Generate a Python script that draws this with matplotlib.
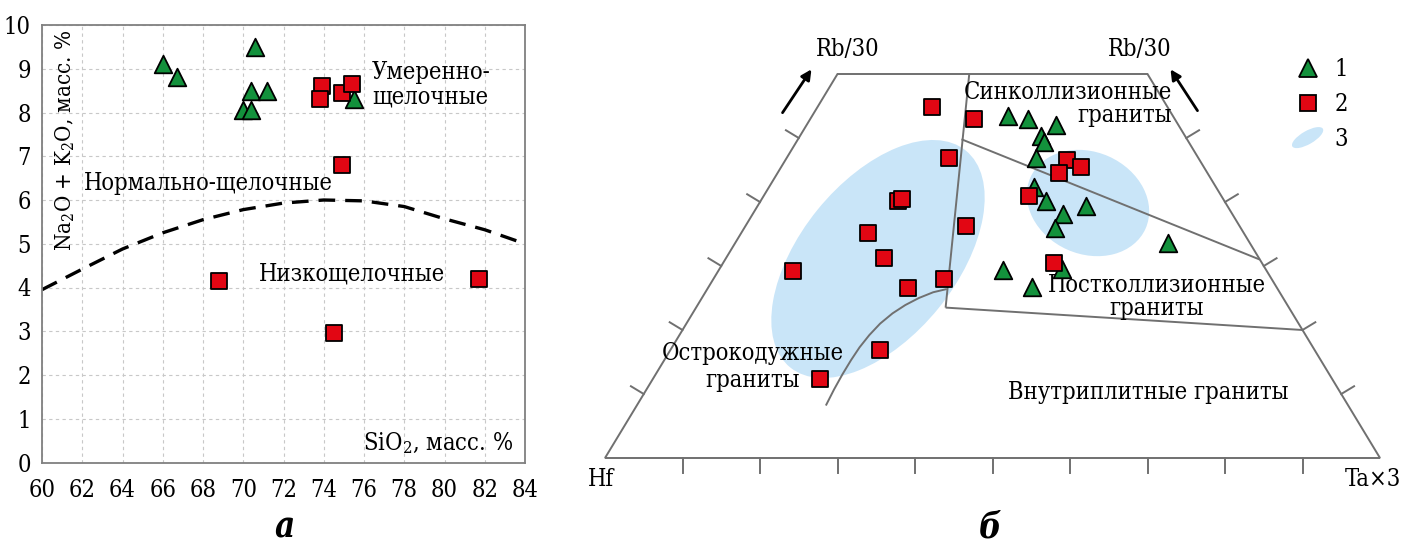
import numpy as np
import matplotlib
matplotlib.use("Agg")
import matplotlib.pyplot as plt
from matplotlib.patches import Ellipse, Polygon
from matplotlib.lines import Line2D
from matplotlib.legend_handler import HandlerPatch

plt.rcParams['font.family'] = ['DejaVu Serif']
plt.rcParams['font.stretch'] = 'condensed'
plt.rcParams['mathtext.fontset'] = 'dejavuserif'

# ---- panel a: TAS (SiO2 vs Na2O+K2O) ----
tri_sio2 = [66.0, 66.7, 70.6, 70.4, 71.2, 70.0, 70.4, 75.5]
tri_alk = [9.1, 8.8, 9.5, 8.5, 8.5, 8.05, 8.05, 8.3]
sq_sio2 = [73.9, 73.8, 74.9, 75.4, 74.9, 68.8, 81.7, 74.5]
sq_alk = [8.6, 8.3, 8.45, 8.65, 6.8, 4.15, 4.2, 2.95]

# alkaline / subalkaline boundary
bound_sio2 = [60, 62, 64, 66, 68, 70, 72, 74, 76, 78, 80, 82, 84]
bound_alk = [3.95, 4.42, 4.88, 5.25, 5.55, 5.78, 5.93, 6.0, 5.98, 5.85, 5.57, 5.32, 5.0]

# ---- panel b: Hf - Rb/30 - Ta*3 (percent) ----
tri_rb = [53.5, 53.0, 52.0, 50.3, 49.4, 46.8, 42.4, 40.2, 38.2, 39.4, 35.9, 33.6, 29.3, 26.7, 29.5]
tri_ta = [25.2, 28.1, 32.2, 31.1, 32.0, 32.2, 34.2, 36.8, 40.0, 42.4, 40.1, 55.9, 36.7, 41.7, 44.2]
sq_rb = [54.9, 53.0, 46.9, 40.2, 40.4, 35.1, 31.3, 29.2, 26.5, 27.9, 36.2, 16.8, 12.3,
         46.6, 45.4, 44.6, 40.9, 30.4]
sq_ta = [14.8, 21.1, 21.0, 17.7, 18.1, 16.4, 20.3, 9.7, 25.8, 29.8, 28.5, 27.1, 21.6,
         36.3, 38.7, 36.3, 34.2, 42.7]

# field boundaries (Rb%, Ta%)
line_a_rb, line_a_ta = [60.0, 23.5], [17.0, 32.2]
line_b_rb, line_b_ta = [23.5, 20.0], [32.2, 80.0]
line_c_rb, line_c_ta = [49.8, 31.0], [21.1, 69.0]
arc_rb = [26.4, 25.9, 25.0, 23.9, 22.6, 21.0, 19.2, 17.3, 15.3, 13.1, 10.7, 8.2]
arc_ta = [30.9, 29.4, 28.0, 26.8, 25.8, 25.0, 24.5, 24.2, 24.1, 24.1, 24.2, 24.4]
frame_rb = [0, 60, 60, 0]
frame_ta = [0, 0, 40, 100]
tick_pct = [10, 20, 30, 40, 50, 60, 70, 80, 90]

RED = '#e20613'
GREEN = '#13913c'
BLUE = '#c9e5f8'
GRAY = '#707070'

W, H = 775.0, 640.0  # diagram size in pixels


def tern(rb, ta):
    rb = np.asarray(rb, float) / 100
    ta = np.asarray(ta, float) / 100
    return W * (ta + rb / 2), H * rb


fig = plt.figure(figsize=(14.14, 5.43), dpi=100)
FW, FH = 1414.0, 543.0
fs = 17

# ================= panel a =================
ax = fig.add_axes([42 / FW, (FH - 462.5) / FH, (525 - 42) / FW, (462.5 - 25) / FH])
ax.set_xlim(60, 84)
ax.set_ylim(0, 10)
ax.set_xticks(np.arange(60, 85, 2))
ax.set_yticks(np.arange(0, 11, 1))
ax.grid(True, ls=(0, (3, 3)), color='#c8c8c8', lw=0.8)
ax.set_axisbelow(True)
for s in ax.spines.values():
    s.set_color('#808080')
    s.set_linewidth(1.3)
ax.tick_params(length=0, labelsize=fs)
ax.tick_params(axis='x', pad=12)
ax.tick_params(axis='y', pad=8)
ax.plot(bound_sio2, bound_alk, color='black', lw=2.4, ls=(0, (5, 3)))
ax.scatter(tri_sio2, tri_alk, marker='^', s=160, c=GREEN, edgecolors='black', linewidths=1.3, zorder=5)
ax.scatter(sq_sio2, sq_alk, marker='s', s=140, c=RED, edgecolors='black', linewidths=1.3, zorder=5)

ax.text(0.048, 0.737, 'Na$_2$O + K$_2$O, масс. %', transform=ax.transAxes, rotation=90,
        ha='center', va='center', fontsize=16)
ax.text(0.975, 0.045, 'SiO$_2$, масс. %', transform=ax.transAxes, ha='right', va='center', fontsize=fs)
ax.text(76.4, 8.63, 'Умеренно-\nщелочные', ha='left', va='center', fontsize=fs, linespacing=1.05)
ax.text(62.1, 6.37, 'Нормально-щелочные', ha='left', va='center', fontsize=fs)
ax.text(70.8, 4.3, 'Низкощелочные', ha='left', va='center', fontsize=fs)

fig.text(285 / FW, 1 - 527 / FH, 'а', ha='center', va='center', fontsize=25,
         fontweight='bold', fontstyle='italic')

# ================= panel b =================
bx = fig.add_axes([580 / FW, 0, (FW - 580) / FW, 1])
bx.set_xlim(-25, 809)
bx.set_ylim(-85, 458)
bx.axis('off')

bx.add_patch(Ellipse((273, 199), 279, 156, angle=51, fc=BLUE, ec='none', zorder=1))
bx.add_patch(Ellipse((483, 255), 126, 102, angle=-24, fc=BLUE, ec='none', zorder=1))

fx, fy = tern(frame_rb, frame_ta)
bx.add_patch(Polygon(np.column_stack([fx, fy]), closed=True, fill=False, ec=GRAY, lw=1.4, zorder=2))
for lr, lt in [(line_a_rb, line_a_ta), (line_b_rb, line_b_ta), (line_c_rb, line_c_ta), (arc_rb, arc_ta)]:
    x, y = tern(lr, lt)
    bx.plot(x, y, color=GRAY, lw=1.4, zorder=2, solid_capstyle='butt')

# ticks
tl = 15
for p in tick_pct:
    x, y = tern(0, p)
    bx.plot([x, x], [y, y - tl], color=GRAY, lw=1.4)
nl = np.array([-H, W / 2]); nl /= np.hypot(*nl)
nr = np.array([H, W / 2]); nr /= np.hypot(*nr)
for p in tick_pct[:5]:
    x, y = tern(p, 0)
    bx.plot([x, x + tl * nl[0]], [y, y + tl * nl[1]], color=GRAY, lw=1.4)
    x, y = tern(p, 100 - p)
    bx.plot([x, x + tl * nr[0]], [y, y + tl * nr[1]], color=GRAY, lw=1.4)

x, y = tern(tri_rb, tri_ta)
bx.scatter(x, y, marker='^', s=160, c=GREEN, edgecolors='black', linewidths=1.3, zorder=5)
x, y = tern(sq_rb, sq_ta)
bx.scatter(x, y, marker='s', s=140, c=RED, edgecolors='black', linewidths=1.3, zorder=5)

# labels
bx.text(-4, -22, 'Hf', ha='center', va='center', fontsize=fs)
bx.text(W - 7, -22, 'Ta×3', ha='center', va='center', fontsize=fs)
bx.text(243, 408, 'Rb/30', ha='center', va='center', fontsize=fs)
bx.text(535, 408, 'Rb/30', ha='center', va='center', fontsize=fs)
bx.annotate('', xy=(208, 391), xytext=(176, 343),
            arrowprops=dict(arrowstyle='-|>,head_length=0.6,head_width=0.3', color='black', lw=2))
bx.annotate('', xy=(564, 391), xytext=(594, 345),
            arrowprops=dict(arrowstyle='-|>,head_length=0.6,head_width=0.3', color='black', lw=2))
bx.text(567, 354, 'Синколлизионные\nграниты', ha='right', va='center', fontsize=fs,
        multialignment='right', linespacing=1.0)
bx.text(552, 161, 'Постколлизионные\nграниты', ha='center', va='center', fontsize=fs,
        multialignment='center', linespacing=1.0)
bx.text(148, 91, 'Острокодужные\nграниты', ha='center', va='center', fontsize=fs,
        multialignment='center', linespacing=1.2)
bx.text(543, 66, 'Внутриплитные граниты', ha='center', va='center', fontsize=fs)

# legend
handles = [Line2D([], [], ls='none', marker='^', ms=13, mfc=GREEN, mec='black', mew=1.3),
           Line2D([], [], ls='none', marker='s', ms=12, mfc=RED, mec='black', mew=1.3),
           Ellipse((0, 0), 1, 1, fc=BLUE, ec='none')]


def make_ellipse(legend, orig_handle, xdescent, ydescent, width, height, fontsize):
    return Ellipse((width / 2 - xdescent, height / 2 - ydescent), width * 1.15, height * 0.8,
                   angle=30, fc=BLUE, ec='none')


bx.legend(handles, ['1', '2', '3'], loc='upper left', bbox_to_anchor=(1271 / FW, 1 - 37 / FH),
          bbox_transform=fig.transFigure, frameon=False, fontsize=fs, handlelength=1.3,
          handletextpad=0.5, labelspacing=0.5,
          handler_map={Ellipse: HandlerPatch(patch_func=make_ellipse)})

fig.text(990 / FW, 1 - 527 / FH, 'б', ha='center', va='center', fontsize=25,
         fontweight='bold', fontstyle='italic')

fig.savefig('out.png', dpi=100)
